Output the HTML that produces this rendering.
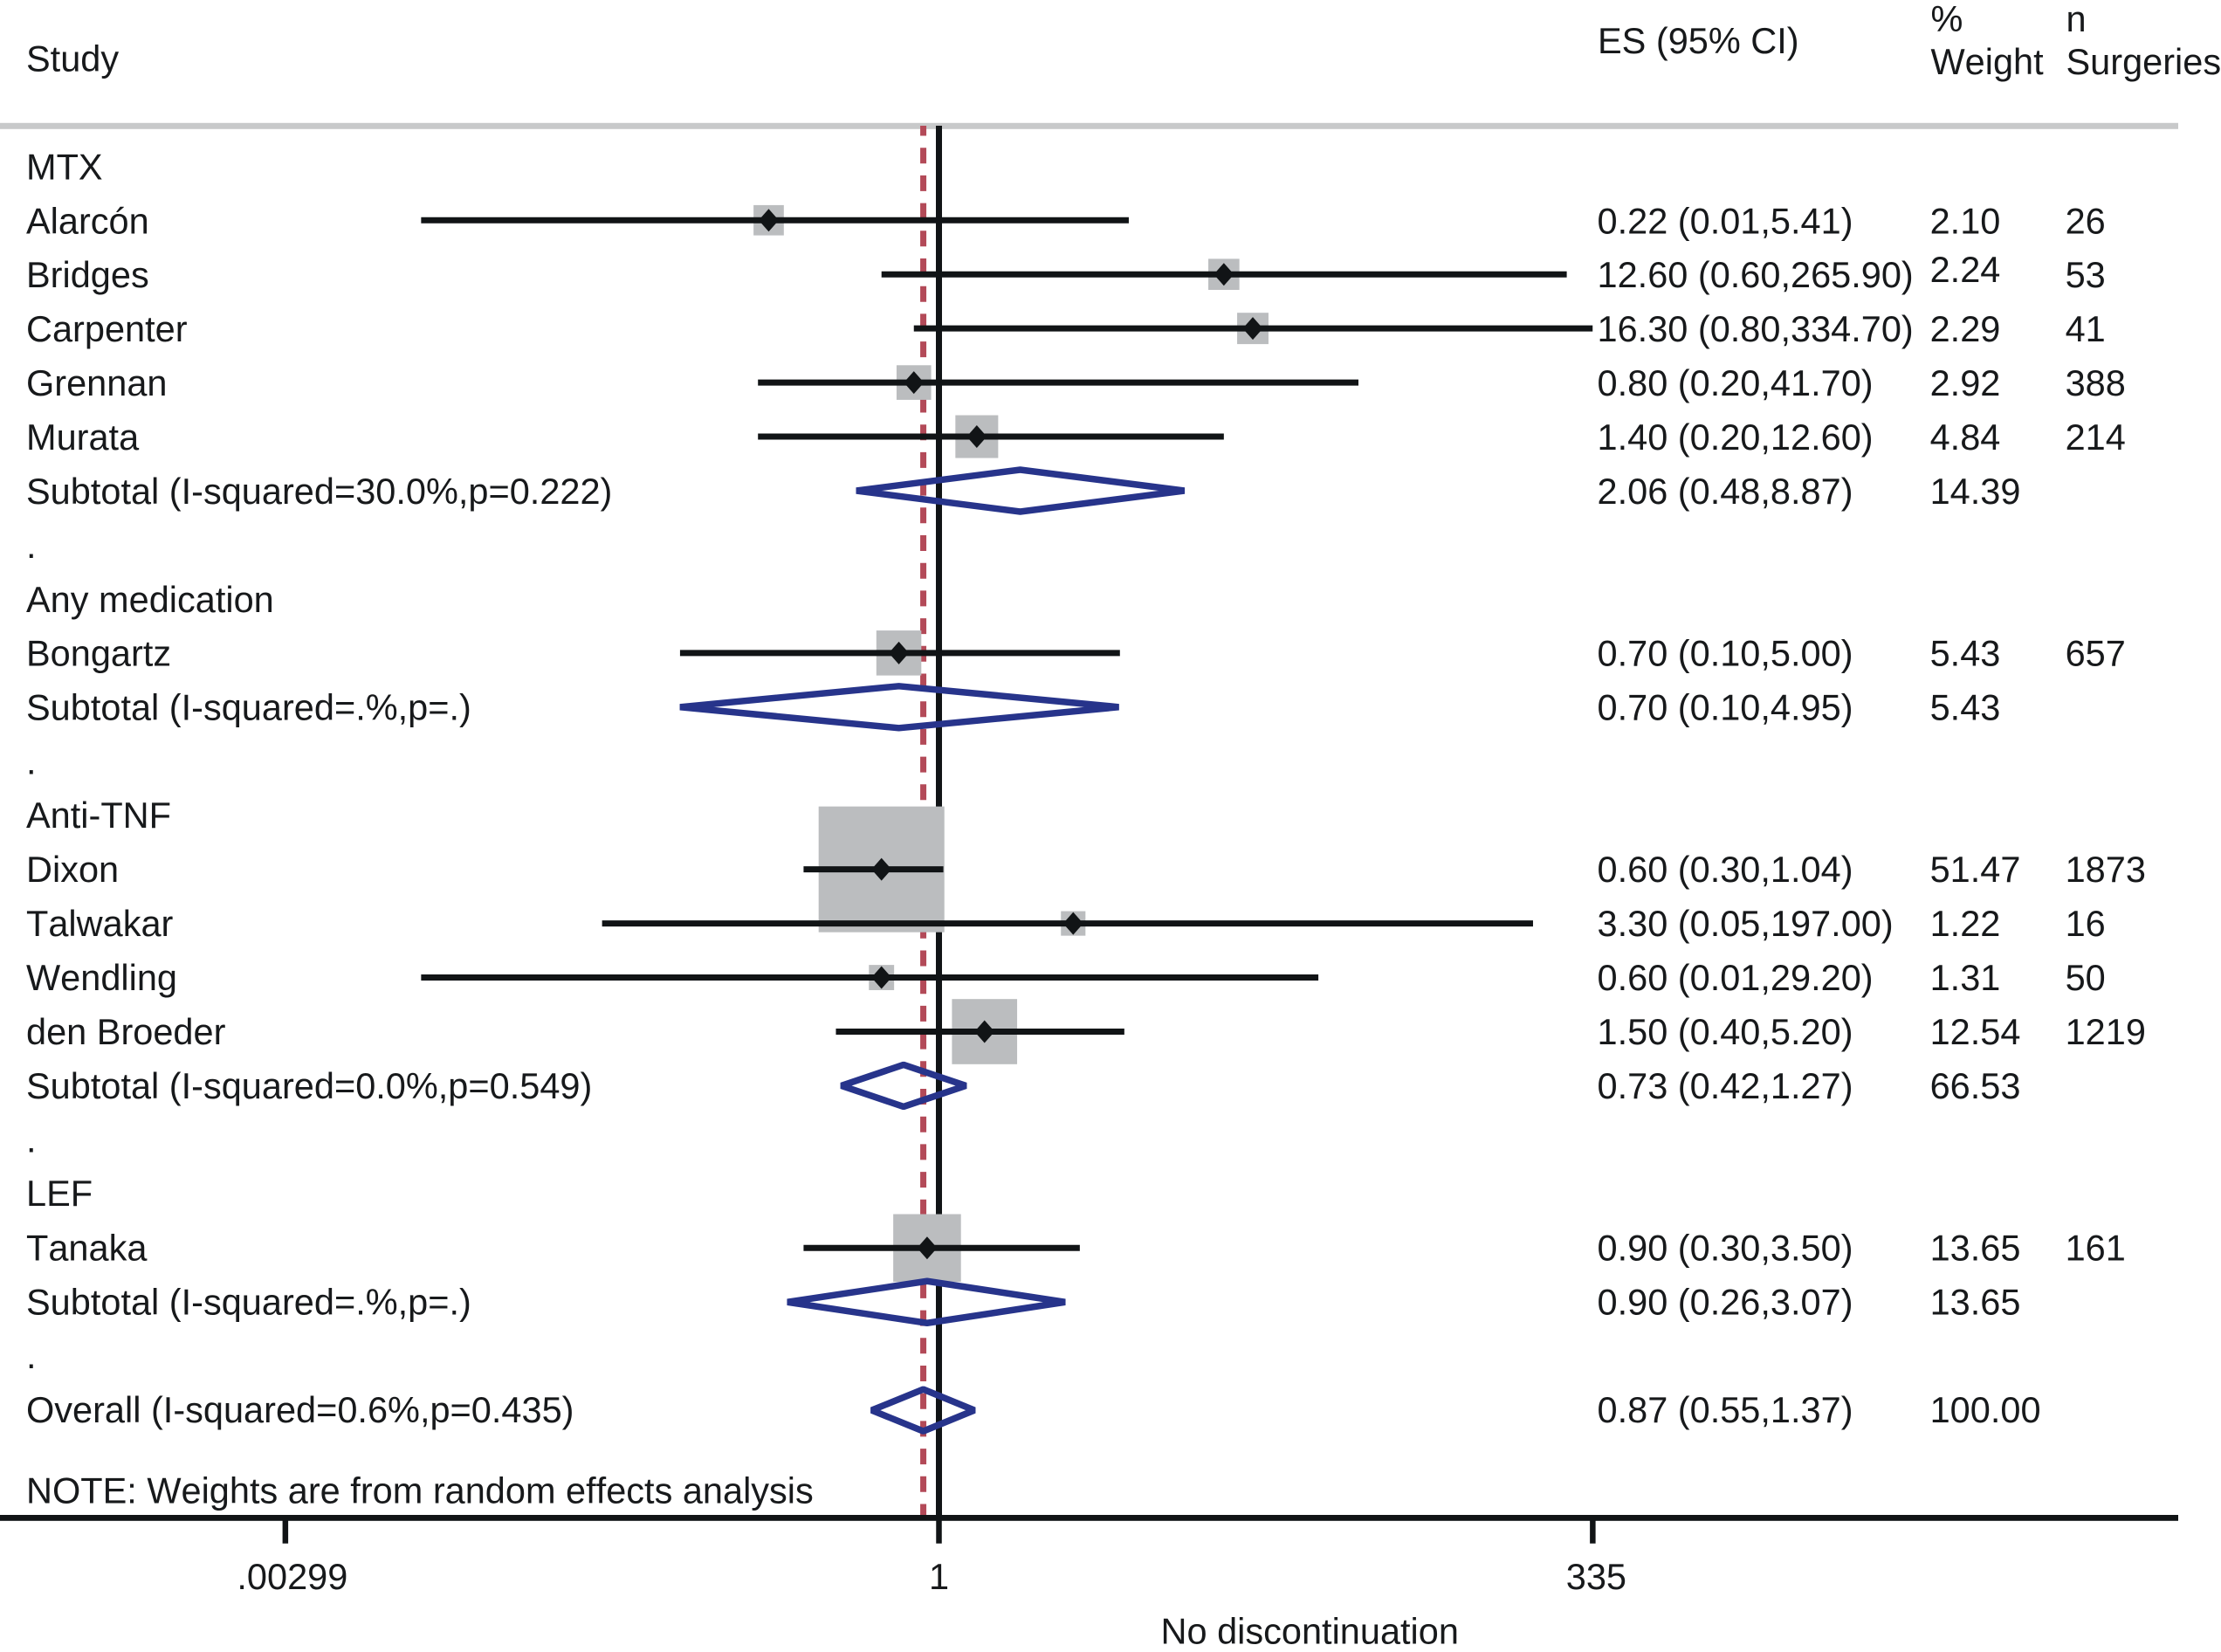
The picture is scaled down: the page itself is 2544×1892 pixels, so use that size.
<!DOCTYPE html>
<html lang="en">
<head>
<meta charset="utf-8">
<title>Forest plot</title>
<style>
html,body{margin:0;padding:0;background:#fff;}
body{width:2544px;height:1892px;overflow:hidden;}
svg{display:block;}
text{font-family:"Liberation Sans",Arial,sans-serif;font-size:41.5px;fill:#17191b;font-kerning:none;}
</style>
</head>
<body>
<svg id="chart" xmlns="http://www.w3.org/2000/svg" width="2544" height="1892" viewBox="0 0 2544 1892">
<rect x="0" y="0" width="2544" height="1892" fill="#ffffff"/>
<rect x="0" y="140.8" width="2495" height="7" fill="#c8c9ca"/>
<g id="marks"></g>

<g>
<text x="30" y="81.6">Study</text>
<text x="1830" y="61">ES (95% CI)</text>
<text x="2211.5" y="36">%</text>
<text x="2211.5" y="85">Weight</text>
<text x="2366.5" y="36">n</text>
<text x="2366.5" y="85">Surgeries</text>
</g>

<g>
<text x="30" y="205.3">MTX</text>
<text x="30" y="267.25">Alarcón</text>
<text x="30" y="329.2">Bridges</text>
<text x="30" y="391.15">Carpenter</text>
<text x="30" y="453.1">Grennan</text>
<text x="30" y="515.05">Murata</text>
<text x="30" y="577">Subtotal (I-squared=30.0%,p=0.222)</text>
<text x="30" y="638.95">.</text>
<text x="30" y="700.9">Any medication</text>
<text x="30" y="762.35">Bongartz</text>
<text x="30" y="824.3">Subtotal (I-squared=.%,p=.)</text>
<text x="30" y="886.25">.</text>
<text x="30" y="948.2">Anti-TNF</text>
<text x="30" y="1010.15">Dixon</text>
<text x="30" y="1072.1">Talwakar</text>
<text x="30" y="1134.05">Wendling</text>
<text x="30" y="1196">den Broeder</text>
<text x="30" y="1257.95">Subtotal (I-squared=0.0%,p=0.549)</text>
<text x="30" y="1319.4">.</text>
<text x="30" y="1381">LEF</text>
<text x="30" y="1443.3">Tanaka</text>
<text x="30" y="1505.25">Subtotal (I-squared=.%,p=.)</text>
<text x="30" y="1567.2">.</text>
<text x="30" y="1629.15">Overall (I-squared=0.6%,p=0.435)</text>
<text x="30" y="1721.7">NOTE: Weights are from random effects analysis</text>
</g>

<g>
<text x="1829.5" y="267.25">0.22 (0.01,5.41)</text>
<text x="1829.5" y="329.2">12.60 (0.60,265.90)</text>
<text x="1829.5" y="391.15">16.30 (0.80,334.70)</text>
<text x="1829.5" y="453.1">0.80 (0.20,41.70)</text>
<text x="1829.5" y="515.05">1.40 (0.20,12.60)</text>
<text x="1829.5" y="577">2.06 (0.48,8.87)</text>
<text x="1829.5" y="762.35">0.70 (0.10,5.00)</text>
<text x="1829.5" y="824.3">0.70 (0.10,4.95)</text>
<text x="1829.5" y="1010.15">0.60 (0.30,1.04)</text>
<text x="1829.5" y="1072.1">3.30 (0.05,197.00)</text>
<text x="1829.5" y="1134.05">0.60 (0.01,29.20)</text>
<text x="1829.5" y="1196">1.50 (0.40,5.20)</text>
<text x="1829.5" y="1257.95">0.73 (0.42,1.27)</text>
<text x="1829.5" y="1443.3">0.90 (0.30,3.50)</text>
<text x="1829.5" y="1505.25">0.90 (0.26,3.07)</text>
<text x="1829.5" y="1629.15">0.87 (0.55,1.37)</text>
</g>

<g>
<text x="2210.6" y="267.25">2.10</text>
<text x="2210.6" y="323">2.24</text>
<text x="2210.6" y="391.15">2.29</text>
<text x="2210.6" y="453.1">2.92</text>
<text x="2210.6" y="515.05">4.84</text>
<text x="2210.6" y="577">14.39</text>
<text x="2210.6" y="762.35">5.43</text>
<text x="2210.6" y="824.3">5.43</text>
<text x="2210.6" y="1010.15">51.47</text>
<text x="2210.6" y="1072.1">1.22</text>
<text x="2210.6" y="1134.05">1.31</text>
<text x="2210.6" y="1196">12.54</text>
<text x="2210.6" y="1257.95">66.53</text>
<text x="2210.6" y="1443.3">13.65</text>
<text x="2210.6" y="1505.25">13.65</text>
<text x="2210.6" y="1629.15">100.00</text>
</g>

<g>
<text x="2365.6" y="267.25">26</text>
<text x="2365.6" y="329.2">53</text>
<text x="2365.6" y="391.15">41</text>
<text x="2365.6" y="453.1">388</text>
<text x="2365.6" y="515.05">214</text>
<text x="2365.6" y="762.35">657</text>
<text x="2365.6" y="1010.15">1873</text>
<text x="2365.6" y="1072.1">16</text>
<text x="2365.6" y="1134.05">50</text>
<text x="2365.6" y="1196">1219</text>
<text x="2365.6" y="1443.3">161</text>
</g>

<text x="1329.5" y="1882.7">No discontinuation</text>
</svg>

<script>
// Row order, top to bottom (null = no estimate drawn on that row).
const rowNames = ["MTX","Alarcón","Bridges","Carpenter","Grennan","Murata","Subtotal MTX",".","Any medication","Bongartz","Subtotal any medication",".","Anti-TNF","Dixon","Talwakar","Wendling","den Broeder","Subtotal anti-TNF",".","LEF","Tanaka","Subtotal LEF",".","Overall"];
const rowTypes = ["group","study","study","study","study","study","pooled","gap","group","study","pooled","gap","group","study","study","study","study","pooled","gap","group","study","pooled","gap","pooled"];
const esValues = [null,0.22,12.6,16.3,0.8,1.4,2.06,null,null,0.7,0.7,null,null,0.6,3.3,0.6,1.5,0.73,null,null,0.9,0.9,null,0.87];
const ciLower = [null,0.01,0.6,0.8,0.2,0.2,0.48,null,null,0.1,0.1,null,null,0.3,0.05,0.01,0.4,0.42,null,null,0.3,0.26,null,0.55];
const ciUpper = [null,5.41,265.9,334.7,41.7,12.6,8.87,null,null,5,4.95,null,null,1.04,197,29.2,5.2,1.27,null,null,3.5,3.07,null,1.37];
const weights = [null,2.1,2.24,2.29,2.92,4.84,14.39,null,null,5.43,5.43,null,null,51.47,1.22,1.31,12.54,66.53,null,null,13.65,13.65,null,100];
const overallEs = 0.87;
const nullValue = 1;
const tickValues = [0.00299,1,335];
const tickLabels = [".00299","1","335"];

const SVG_NS = "http://www.w3.org/2000/svg";
const host = document.getElementById("marks");
const chart = document.getElementById("chart");
const INK = "#111416";
const BLUE = "#27348b";
const RED = "#b34a58";
const BOX = "#bbbdbf";

function xScale(v){ return 1075.5 + 128.8 * Math.log(v); }
function yScale(i){ return 190.3 + 61.95 * i; }
function boxSize(w){ return 7 + 19.1 * Math.sqrt(w); }
function slug(s){ return s.toLowerCase().replace(/[^a-z0-9]+/g,"-").replace(/^-|-$/g,""); }
function make(tag, parent){
  const el = document.createElementNS(SVG_NS, tag);
  parent.appendChild(el);
  return el;
}

// Reference lines
const dashedLine = make("line", host);


dashedLine.setAttribute("x1", xScale(overallEs));
dashedLine.setAttribute("x2", xScale(overallEs));
dashedLine.setAttribute("y1", 144);
dashedLine.setAttribute("y2", 1736);
dashedLine.setAttribute("stroke", RED);
dashedLine.setAttribute("stroke-width", 7);
dashedLine.setAttribute("stroke-dasharray", "18 13.7");
dashedLine.setAttribute("stroke-dashoffset", 6.5);

const nullLine = make("line", host);


nullLine.setAttribute("x1", xScale(nullValue));
nullLine.setAttribute("x2", xScale(nullValue));
nullLine.setAttribute("y1", 144);
nullLine.setAttribute("y2", 1738);
nullLine.setAttribute("stroke", INK);
nullLine.setAttribute("stroke-width", 7);

// Weight boxes
rowTypes.forEach(function(type, i){
  if (type !== "study") return;
  const s = boxSize(weights[i]);
  const box = make("rect", host);
  
  
  box.setAttribute("x", xScale(esValues[i]) - s / 2);
  box.setAttribute("y", yScale(i) - s / 2);
  box.setAttribute("width", s);
  box.setAttribute("height", s);
  box.setAttribute("fill", BOX);
});

// Confidence intervals and point markers
rowTypes.forEach(function(type, i){
  if (type !== "study") return;
  const ci = make("line", host);
  
  
  ci.setAttribute("x1", xScale(ciLower[i]));
  ci.setAttribute("x2", xScale(ciUpper[i]));
  ci.setAttribute("y1", yScale(i));
  ci.setAttribute("y2", yScale(i));
  ci.setAttribute("stroke", INK);
  ci.setAttribute("stroke-width", 7);
  const cx = xScale(esValues[i]);
  const cy = yScale(i);
  const point = make("polygon", host);
  
  
  point.setAttribute("points", [cx-11.5,cy, cx,cy-13, cx+11.5,cy, cx,cy+13].join(" "));
  point.setAttribute("fill", INK);
});

// Pooled-estimate diamonds
rowTypes.forEach(function(type, i){
  if (type !== "pooled") return;
  const cy = yScale(i);
  const diamond = make("polygon", host);
  
  
  diamond.setAttribute("points", [xScale(ciLower[i]),cy, xScale(esValues[i]),cy-24, xScale(ciUpper[i]),cy, xScale(esValues[i]),cy+24].join(" "));
  diamond.setAttribute("fill", "none");
  diamond.setAttribute("stroke", BLUE);
  diamond.setAttribute("stroke-width", 7.5);
  diamond.setAttribute("stroke-linejoin", "bevel");
});

// X axis
const axisLine = make("rect", host);


axisLine.setAttribute("x", 0);
axisLine.setAttribute("y", 1735);
axisLine.setAttribute("width", 2495);
axisLine.setAttribute("height", 6.8);
axisLine.setAttribute("fill", INK);

tickValues.forEach(function(v, i){
  const tx = xScale(v);
  const tick = make("line", host);
  
  
  tick.setAttribute("x1", tx);
  tick.setAttribute("x2", tx);
  tick.setAttribute("y1", 1738);
  tick.setAttribute("y2", 1767.7);
  tick.setAttribute("stroke", INK);
  tick.setAttribute("stroke-width", 6.5);
  const nudge = i === 0 ? 8 : (i === 2 ? 4 : 0);
  const label = make("text", chart);
  
  
  label.setAttribute("x", tx + nudge);
  label.setAttribute("y", 1820);
  label.setAttribute("text-anchor", "middle");
  label.textContent = tickLabels[i];
});
</script>
</body>
</html>
